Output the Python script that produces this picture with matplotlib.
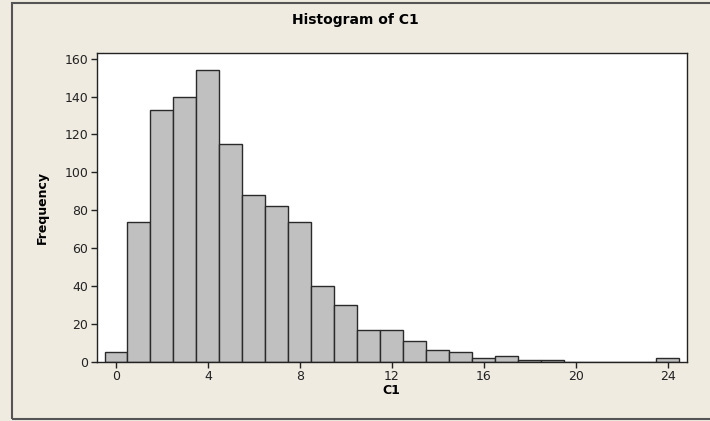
import matplotlib.pyplot as plt
from matplotlib.patches import Rectangle

# histogram of C1, bins of width 1 centred on integers
bin_centers = list(range(0, 25))
counts = [5, 74, 133, 140, 154, 115, 88, 82, 74, 40, 30, 17, 17, 11, 6, 5,
          2, 3, 1, 1, 0, 0, 0, 0, 2]
x_ticks = [0, 4, 8, 12, 16, 20, 24]
y_ticks = [0, 20, 40, 60, 80, 100, 120, 140, 160]

BG = '#EFEBE1'

fig = plt.figure(figsize=(7.1, 4.21), dpi=100, facecolor=BG)

# outer frame of the graph window (right side runs off the picture)
fig.patches.append(Rectangle((12 / 710, 2 / 421), 1.05, 416.5 / 421,
                             transform=fig.transFigure, fill=False,
                             edgecolor='#555555', linewidth=1.5))

ax = fig.add_axes([96.7 / 710, 59.3 / 421, 590 / 710, 309 / 421])
ax.set_facecolor('white')
ax.bar(bin_centers, counts, width=1.0, color='#C0C0C0',
       edgecolor='#2a2a2a', linewidth=1.0)

ax.set_xlim(-0.84, 24.83)
ax.set_ylim(0, 163.2)
ax.set_xticks(x_ticks)
ax.set_yticks(y_ticks)
ax.tick_params(direction='out', length=4, width=1, colors='#222222',
               labelsize=9, pad=2)
for sp in ax.spines.values():
    sp.set_color('#222222')
    sp.set_linewidth(1.0)

ax.set_xlabel('C1', fontsize=9, fontweight='bold', labelpad=1)
ax.set_ylabel('Frequency', fontsize=9, fontweight='bold', labelpad=11)
fig.text(0.50, 0.952, 'Histogram of C1', ha='center', va='center',
         fontsize=10, fontweight='bold')

fig.savefig('out.png', dpi=100, facecolor=BG)
